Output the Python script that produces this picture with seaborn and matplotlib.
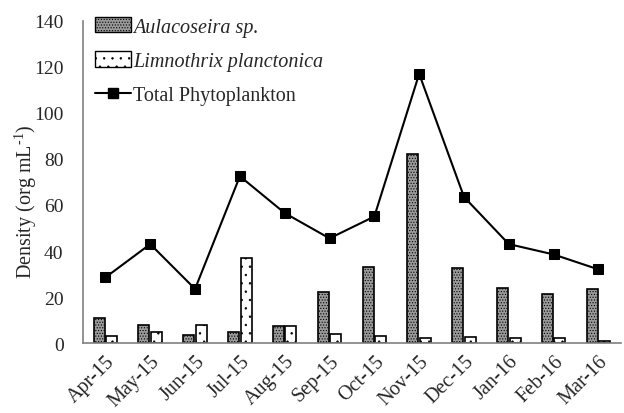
import matplotlib
matplotlib.use("Agg")
import matplotlib.pyplot as plt
import seaborn as sb
import pandas as pd
from matplotlib.patches import Patch
from matplotlib.lines import Line2D

months = ['Apr-15', 'May-15', 'Jun-15', 'Jul-15', 'Aug-15', 'Sep-15',
          'Oct-15', 'Nov-15', 'Dec-15', 'Jan-16', 'Feb-16', 'Mar-16']
aulacoseira = [11, 8, 3.5, 5, 7.5, 22, 33, 82, 32.5, 24, 21.5, 23.5]
limnothrix = [3, 5, 8, 37, 7.5, 4, 3, 2, 2.5, 2, 2, 1]
total = [28.5, 43, 23.5, 72.5, 56.5, 45.5, 55, 117, 63.5, 43, 38.5, 32]

sb.set_style('white')
plt.rcParams['font.family'] = ['Liberation Serif', 'DejaVu Serif']
plt.rcParams['mathtext.fontset'] = 'custom'
plt.rcParams['mathtext.rm'] = 'Liberation Serif'
plt.rcParams['hatch.linewidth'] = 0.5

bars = pd.DataFrame({
    'month': months * 2,
    'value': aulacoseira + limnothrix,
    'taxon': ['Aulacoseira'] * 12 + ['Limnothrix'] * 12,
})

fig = plt.figure(figsize=(6.24, 4.14), dpi=100)
ax = fig.add_axes([0.133, 0.169, 0.862, 0.778])

sb.barplot(data=bars, x='month', y='value', hue='taxon', order=months,
           palette=['#9a9a9a', 'white'], width=0.56, gap=0.12,
           edgecolor='black', linewidth=1.2, legend=False, ax=ax)
for p in ax.patches[:12]:
    p.set_hatch('......')
for p in ax.patches[12:24]:
    p.set_hatch('..')

sb.lineplot(x=months, y=total, color='black', linewidth=1.5, marker='s',
            markersize=7, markeredgecolor='black', ax=ax)

fs = 14.5
ax.set_xlim(-0.5, 11.5)
ax.set_ylim(0, 140)
ax.set_yticks(range(0, 141, 20))
ax.set_xticks(range(12))
ax.set_xticklabels(months, rotation=45, ha='right', rotation_mode='anchor')
ax.set_xticks([i - 0.5 for i in range(13)], minor=True)
ax.tick_params(axis='x', which='major', length=0, labelsize=fs, pad=6)
ax.tick_params(axis='x', which='minor', length=6, direction='out', color='#808080')
ax.tick_params(axis='y', length=6, direction='out', color='#808080', labelsize=14, pad=8)
ax.set_xlabel('')
ax.set_ylabel('Density (org mL$^{\\text{-1}}$)', fontsize=fs)
ax.yaxis.set_label_coords(-0.081, 0.44)

for s in ['top', 'right']:
    ax.spines[s].set_visible(False)
for s in ['left', 'bottom']:
    ax.spines[s].set_color('#808080')
    ax.spines[s].set_linewidth(1.2)

handles = [
    Patch(facecolor='#9a9a9a', edgecolor='black', hatch='......'),
    Patch(facecolor='white', edgecolor='black', hatch='..'),
    Line2D([0], [0], color='black', marker='s', markersize=7, linewidth=1.5),
]
leg = ax.legend(handles, ['Aulacoseira sp.', 'Limnothrix planctonica', 'Total Phytoplankton'],
                loc='upper left', bbox_to_anchor=(0.0, 1.05), frameon=False,
                fontsize=fs, handlelength=1.8, handleheight=0.8, handletextpad=0.1,
                labelspacing=0.72, borderaxespad=0.2)
for t in leg.get_texts()[:2]:
    t.set_style('italic')

fig.savefig('out.png', dpi=100)
